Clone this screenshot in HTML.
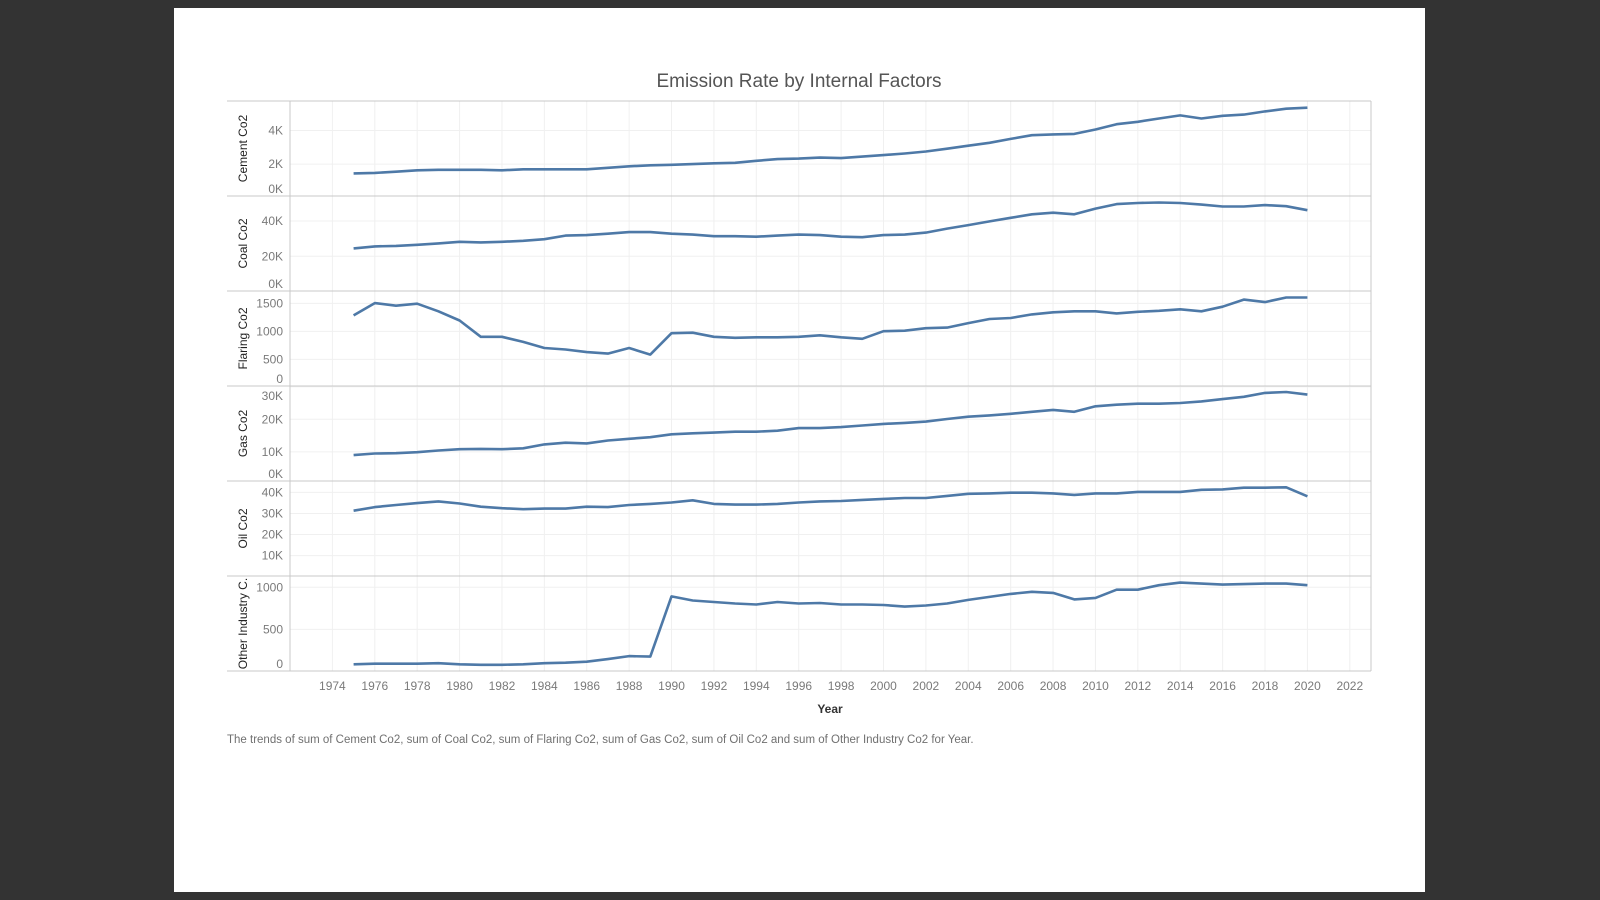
<!DOCTYPE html>
<html><head><meta charset="utf-8"><style>
body{margin:0;background:#333;width:1600px;height:900px;overflow:hidden;font-family:"Liberation Sans",sans-serif}
#card{position:absolute;left:174px;top:8px;width:1251px;height:884px;background:#fff}
svg{position:absolute;left:0;top:0}
</style></head><body>
<div id="card"></div>
<svg id="chart" width="1600" height="900"></svg>
<script>
const years=[];for(let y=1975;y<=2020;y++)years.push(y);
const cement=[1.45,1.48,1.55,1.63,1.66,1.66,1.66,1.63,1.69,1.69,1.69,1.69,1.78,1.87,1.93,1.96,2.0,2.05,2.08,2.2,2.3,2.33,2.39,2.36,2.45,2.54,2.63,2.75,2.92,3.1,3.27,3.5,3.72,3.77,3.8,4.06,4.38,4.52,4.72,4.9,4.72,4.88,4.95,5.14,5.3,5.36].map(v=>v*1000);
const coal=[24.5,25.6,25.9,26.5,27.3,28.2,27.9,28.2,28.8,29.7,31.7,32,32.8,33.7,33.7,32.8,32.3,31.4,31.4,31.1,31.7,32.3,32,31.1,30.8,32,32.3,33.4,35.7,37.7,39.8,41.8,43.8,44.7,43.8,47,49.6,50.2,50.5,50.2,49.3,48.2,48.2,49,48.4,46.1].map(v=>v*1000);
const flaring=[1286,1505,1459,1495,1359,1195,903,903,812,703,676,630,603,703,585,967,976,903,885,894,894,903,930,894,867,1004,1013,1058,1067,1149,1222,1240,1304,1341,1359,1359,1322,1350,1368,1395,1359,1441,1568,1523,1605,1605];
const gas=[9.0,9.5,9.6,9.9,10.4,10.8,10.9,10.8,11.1,12.3,12.8,12.6,13.5,14.0,14.5,15.4,15.7,15.9,16.2,16.2,16.5,17.3,17.3,17.6,18.1,18.6,18.9,19.3,20.1,20.8,21.2,21.7,22.3,22.9,22.3,24.0,24.5,24.8,24.8,25.0,25.5,26.2,26.9,28.1,28.4,27.6].map(v=>v*1000);
const oil=[31.3,33,34,34.9,35.7,34.7,33.2,32.5,32,32.3,32.3,33.2,33,34,34.5,35.2,36.2,34.5,34.2,34.2,34.5,35.2,35.7,35.9,36.4,36.9,37.3,37.3,38.3,39.3,39.5,39.8,39.8,39.5,38.8,39.5,39.5,40.2,40.2,40.2,41.2,41.4,42.2,42.2,42.4,38.1].map(v=>v*1000);
const other=[85,91,91,91,97,85,79,79,85,97,103,115,146,182,176,892,843,825,807,795,825,807,813,795,795,789,771,783,807,850,886,922,947,934,856,874,971,971,1025,1056,1044,1032,1038,1044,1044,1025];
const xTicks=[1974,1976,1978,1980,1982,1984,1986,1988,1990,1992,1994,1996,1998,2000,2002,2004,2006,2008,2010,2012,2014,2016,2018,2020,2022];
const panels=[
 {title:"Cement Co2",name:"cement",data:cement,top:101,zero:197.7,k:0.01679,ticks:[0,2000,4000],labels:["0K","2K","4K"]},
 {title:"Coal Co2",name:"coal",data:coal,top:196,zero:291.6,k:0.001765,ticks:[0,20000,40000],labels:["0K","20K","40K"]},
 {title:"Flaring Co2",name:"flaring",data:flaring,top:291,zero:387.4,k:0.056,ticks:[0,500,1000,1500],labels:["0","500","1000","1500"]},
 {title:"Gas Co2",name:"gas",data:gas,top:386,zero:484.4,k:0.003255,ticks:[0,10000,20000,30000],labels:["0K","10K","20K","30K"]},
 {title:"Oil Co2",name:"oil",data:oil,top:481,zero:576.8,k:0.002112,ticks:[10000,20000,30000,40000],labels:["10K","20K","30K","40K"]},
 {title:"Other Industry C.",name:"other-industry",data:other,top:576,zero:671.4,k:0.0841,ticks:[0,500,1000],labels:["0","500","1000"]}
];
const L=290,R=1371,PH=95;
const x=yr=>L+(yr-1972)*(R-L)/51;
const svg=document.getElementById('chart');const NS="http://www.w3.org/2000/svg";
function mk(t,a,p){const e=document.createElementNS(NS,t);for(const k in a)e.setAttribute(k,a[k]);(p||svg).appendChild(e);return e;}
xTicks.forEach(t=>{const l=mk('line',{x1:x(t),x2:x(t),y1:101,y2:671,stroke:'#f0f0f0','stroke-width':1});

const tx=mk('text',{x:x(t),y:690,'text-anchor':'middle','font-size':12,fill:'#7a7a7a'});tx.textContent=t;
});
panels.forEach(p=>{
 const y=v=>p.zero-v*p.k;const bot=p.top+PH;
 p.ticks.forEach((t,i)=>{const gy=y(t);
  if(gy>p.top&&gy<bot){const g=mk('line',{x1:L,x2:R,y1:gy,y2:gy,stroke:'#f0f0f0'});}
  const ly=Math.max(Math.min(gy,bot-7),p.top+10)+4;
  const tl=mk('text',{x:283,y:ly,'text-anchor':'end','font-size':12,fill:'#7a7a7a'});tl.textContent=p.labels[i];
  });
 const sep=mk('line',{x1:227,x2:R,y1:p.top,y2:p.top,stroke:'#c8c8c8','stroke-width':1});
 
 const cy=p.top+PH/2;
 const at=mk('text',{x:0,y:0,transform:`translate(247,${cy}) rotate(-90)`,'text-anchor':'middle','font-size':12,fill:'#222'});at.textContent=p.title;
 
 const d=p.data.map((v,i)=>(i?'L':'M')+x(years[i]).toFixed(1)+','+y(v).toFixed(1)).join('');
 const ln=mk('path',{d:d,fill:'none',stroke:'#4e79a7','stroke-width':2.6,'stroke-linejoin':'round'});
 
});
const b=mk('line',{x1:227,x2:R,y1:671,y2:671,stroke:'#c8c8c8'});
const rb=mk('line',{x1:R,x2:R,y1:101,y2:671,stroke:'#c8c8c8'});
const ax=mk('line',{x1:L,x2:L,y1:101,y2:671,stroke:'#c8c8c8'});
const ti=mk('text',{x:799,y:87,'text-anchor':'middle','font-size':19,fill:'#555'});ti.textContent='Emission Rate by Internal Factors';

const xt=mk('text',{x:830,y:713,'text-anchor':'middle','font-size':12,'font-weight':'bold',fill:'#333'});xt.textContent='Year';

const cap=mk('text',{x:227,y:743,'font-size':11.5,fill:'#707070'});cap.textContent='The trends of sum of Cement Co2, sum of Coal Co2, sum of Flaring Co2, sum of Gas Co2, sum of Oil Co2 and sum of Other Industry Co2 for Year.';

</script>
</body></html>
